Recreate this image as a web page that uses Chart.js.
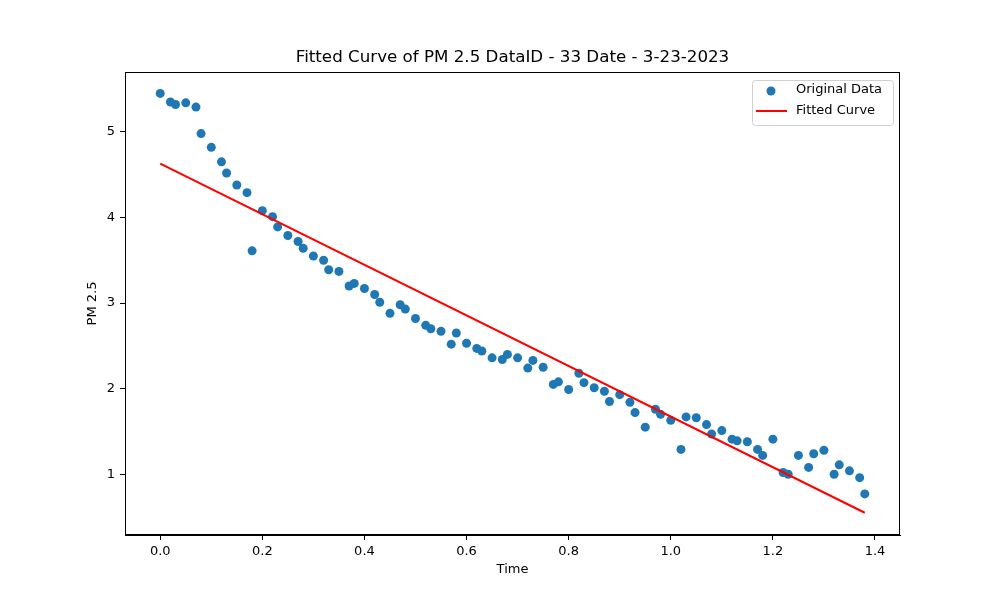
<!DOCTYPE html>
<html>
<head>
<meta charset="utf-8">
<script src="https://cdn.jsdelivr.net/npm/chart.js@4"></script>
<style>
  html, body { margin: 0; padding: 0; background: #fff; }
  #wrap { width: 1000px; height: 600px; }
</style>
</head>
<body>
<div id="wrap"><canvas id="myChart" width="1000" height="600"></canvas></div>
<script>
// values
const timeValues = [0.00, 0.02, 0.03, 0.05, 0.07, 0.08, 0.10, 0.12, 0.13, 0.15,
    0.17, 0.18, 0.20, 0.22, 0.23, 0.25, 0.27, 0.28, 0.30, 0.32,
    0.33, 0.35, 0.37, 0.38, 0.40, 0.42, 0.43, 0.45, 0.47, 0.48,
    0.50, 0.52, 0.53, 0.55, 0.57, 0.58, 0.60, 0.62, 0.63, 0.65,
    0.67, 0.68, 0.70, 0.72, 0.73, 0.75, 0.77, 0.78, 0.80, 0.82,
    0.83, 0.85, 0.87, 0.88, 0.90, 0.92, 0.93, 0.95, 0.97, 0.98,
    1.00, 1.02, 1.03, 1.05, 1.07, 1.08, 1.10, 1.12, 1.13, 1.15,
    1.17, 1.18, 1.20, 1.22, 1.23, 1.25, 1.27, 1.28, 1.30, 1.32,
    1.33, 1.35, 1.37, 1.38];
const pmValues = [5.45, 5.35, 5.32, 5.34, 5.29, 4.98, 4.82, 4.65, 4.52, 4.38,
    4.29, 3.61, 4.08, 4.01, 3.89, 3.79, 3.72, 3.64, 3.55, 3.50,
    3.39, 3.37, 3.20, 3.23, 3.17, 3.10, 3.01, 2.88, 2.98, 2.93,
    2.82, 2.74, 2.70, 2.67, 2.52, 2.65, 2.53, 2.47, 2.44, 2.36,
    2.34, 2.40, 2.36, 2.24, 2.33, 2.25, 2.05, 2.08, 1.99, 2.18,
    2.07, 2.01, 1.97, 1.85, 1.93, 1.84, 1.72, 1.55, 1.76, 1.70,
    1.63, 1.29, 1.67, 1.66, 1.58, 1.47, 1.51, 1.41, 1.39, 1.38,
    1.29, 1.22, 1.41, 1.02, 1.00, 1.22, 1.08, 1.24, 1.28, 1.00,
    1.11, 1.04, 0.96, 0.77];
const fitTime = [0.00, 1.38];
const fitValues = [4.63, 0.55];

const xTicks = [0.0, 0.2, 0.4, 0.6, 0.8, 1.0, 1.2, 1.4];
const yTicks = [1, 2, 3, 4, 5];

const chartTitle = 'Fitted Curve of PM 2.5 DataID - 33 Date - 3-23-2023';
const FONT = "'DejaVu Sans', sans-serif";
const BLUE = '#1f77b4';

// matplotlib style: title over the axes, frame on four sides, legend inside
const frameAndLegend = {
    id: 'frameAndLegend',
    afterDatasetsDraw(chart) {
        const { ctx, chartArea: a } = chart;
        ctx.save();
        ctx.strokeStyle = '#000';
        ctx.lineWidth = 1;
        ctx.strokeRect(a.left + 0.5, a.top + 0.5, a.right - a.left - 1, a.bottom - a.top - 1);

        // title
        ctx.fillStyle = '#000';
        ctx.font = '16.7px ' + FONT;
        ctx.textAlign = 'center';
        ctx.textBaseline = 'middle';
        ctx.fillText(chartTitle, (a.left + a.right) / 2, a.top - 14);

        // legend
        const x = a.right - 148, y = a.top + 8, w = 141, h = 45;
        ctx.fillStyle = 'rgba(255,255,255,0.8)';
        ctx.strokeStyle = '#d0d0d0';
        ctx.beginPath();
        ctx.roundRect(x + 0.5, y + 0.5, w, h, 3);
        ctx.fill();
        ctx.stroke();

        ctx.fillStyle = BLUE;
        ctx.beginPath();
        ctx.arc(x + 19, y + 11, 4.5, 0, Math.PI * 2);
        ctx.fill();

        ctx.strokeStyle = 'red';
        ctx.lineWidth = 2;
        ctx.beginPath();
        ctx.moveTo(x + 4, y + 31);
        ctx.lineTo(x + 35, y + 31);
        ctx.stroke();

        ctx.fillStyle = '#000';
        ctx.font = '13px ' + FONT;
        ctx.textAlign = 'left';
        ctx.fillText('Original Data', x + 44, y + 10);
        ctx.fillText('Fitted Curve', x + 44, y + 31);
        ctx.restore();
    }
};

const ctx = document.getElementById('myChart');
new Chart(ctx, {
    type: 'scatter',
    data: {
        datasets: [{
            label: 'Original Data',
            data: timeValues.map((t, i) => ({ x: t, y: pmValues[i] })),
            backgroundColor: BLUE,
            borderColor: BLUE,
            pointRadius: 4.5,
            pointHoverRadius: 4.5,
            borderWidth: 0,
            order: 2
        }, {
            label: 'Fitted Curve',
            type: 'line',
            data: fitTime.map((t, i) => ({ x: t, y: fitValues[i] })),
            borderColor: 'red',
            borderWidth: 2,
            pointRadius: 0,
            fill: false,
            order: 1
        }]
    },
    options: {
        responsive: false,
        animation: false,
        events: [],
        layout: { padding: { left: 81, right: 100, top: 72, bottom: 19 } },
        plugins: {
            legend: { display: false },
            tooltip: { enabled: false },
            title: { display: false }
        },
        scales: {
            x: {
                type: 'linear',
                min: -0.069,
                max: 1.449,
                afterBuildTicks: (s) => { s.ticks = xTicks.map(v => ({ value: v })); },
                afterFit: (s) => { s.height = 46; },
                ticks: {
                    color: '#000',
                    font: { family: FONT, size: 13 },
                    padding: 4,
                    maxRotation: 0,
                    callback: (v) => v.toFixed(1)
                },
                grid: { drawOnChartArea: false, drawTicks: true, tickLength: 5, color: '#000' },
                border: { display: true, color: '#000' },
                title: { display: true, text: 'Time', color: '#000', font: { family: FONT, size: 13 } }
            },
            y: {
                type: 'linear',
                min: 0.29,
                max: 5.70,
                afterBuildTicks: (s) => { s.ticks = yTicks.map(v => ({ value: v })); },
                afterFit: (s) => { s.width = 44; },
                ticks: {
                    color: '#000',
                    font: { family: FONT, size: 13 },
                    padding: 5,
                    callback: (v) => String(v)
                },
                grid: { drawOnChartArea: false, drawTicks: true, tickLength: 5, color: '#000' },
                border: { display: true, color: '#000' },
                title: { display: true, text: 'PM 2.5', color: '#000', font: { family: FONT, size: 13 } }
            }
        }
    },
    plugins: [frameAndLegend]
});
</script>
</body>
</html>
